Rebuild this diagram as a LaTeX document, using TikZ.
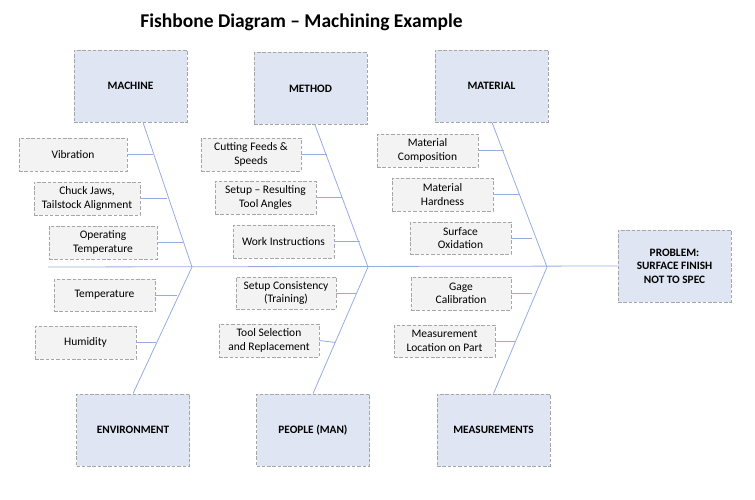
\documentclass[tikz,border=0pt]{standalone}
\usepackage{fontspec}
\setmainfont{Carlito}
\definecolor{headfill}{RGB}{223,229,242}
\definecolor{causefill}{RGB}{243,243,243}
\definecolor{boxline}{RGB}{166,166,166}
\definecolor{boneline}{RGB}{150,172,222}
\begin{document}
\begin{tikzpicture}[x=1pt,y=-1pt,
  headbox/.style={draw=boxline, fill=headfill, line width=0.8pt, dash pattern=on 3.5pt off 1.8pt, minimum width=113pt, minimum height=72pt, align=center, font=\fontsize{11.3}{13.5}\selectfont\bfseries, inner sep=2pt},
  causebox/.style={draw=boxline, fill=causefill, line width=0.8pt, dash pattern=on 3.5pt off 1.8pt, minimum width=101pt, minimum height=33pt, align=center, font=\fontsize{11.5}{13.5}\selectfont, inner sep=2pt},
  bone/.style={draw=boneline, line width=0.8pt}
]
\useasboundingbox (0,0) rectangle (755,500);
\node[font=\fontsize{19.5}{23}\selectfont\bfseries] (title) at (301.5,22) {Fishbone Diagram -- Machining Example};

% heads
\node[headbox] (machine) at (130.5,86) {MACHINE};
\node[headbox] (method) at (310.5,88.5) {METHOD};
\node[headbox] (material) at (491.5,86) {MATERIAL};
\node[headbox] (env) at (133,430) {ENVIRONMENT};
\node[headbox] (people) at (313,430) {PEOPLE (MAN)};
\node[headbox] (meas) at (493.5,430) {MEASUREMENTS};
\node[headbox] (problem) at (674.5,266) {PROBLEM:\\SURFACE FINISH\\NOT TO SPEC};

% spine
\coordinate (tail) at (48,267);
\coordinate (j1) at (192,267);
\coordinate (j2) at (368,267);
\coordinate (j3) at (547,267);
\draw[bone] (tail) -- (problem.west);

% bones
\draw[bone] ([xshift=12.5pt]machine.south) -- (j1);
\draw[bone] ([xshift=4.5pt]method.south) -- (j2);
\draw[bone] ([xshift=0.5pt]material.south) -- (j3);
\draw[bone] (env.north) -- (j1);
\draw[bone] (people.north) -- (j2);
\draw[bone] (meas.north) -- (j3);

% causes
\node[causebox, minimum width=108pt] (vib) at (73,154.5) {Vibration};
\node[causebox, minimum width=106pt] (chuck) at (87,198.5) {Chuck Jaws,\\Tailstock Alignment};
\node[causebox, minimum width=108pt] (optemp) at (103,242.5) {Operating\\Temperature};
\node[causebox, minimum width=100pt] (cut) at (251,154.5) {Cutting Feeds \&\\Speeds};
\node[causebox] (setup) at (265.5,197.5) {Setup -- Resulting\\Tool Angles};
\node[causebox] (work) at (283.5,241.5) {Work Instructions};
\node[causebox] (comp) at (427.5,150.5) {Material\\Composition};
\node[causebox] (hard) at (442.5,194.5) {Material\\Hardness};
\node[causebox, minimum height=32pt] (oxid) at (460.5,238) {Surface\\Oxidation};
\node[causebox, minimum height=32pt] (temp) at (104.5,295) {Temperature};
\node[causebox] (hum) at (85.5,342.5) {Humidity};
\node[causebox, minimum width=100pt, minimum height=32pt] (cons) at (286,293) {Setup Consistency\\(Training)};
\node[causebox, minimum width=100pt] (toolsel) at (269,340.5) {Tool Selection\\and Replacement};
\node[causebox, minimum width=100pt] (gage) at (461,293.5) {Gage\\Calibration};
\node[causebox, minimum height=32pt] (mloc) at (444.5,341) {Measurement\\Location on Part};

% cause connectors
\draw[bone] (vib.east) -- ++(26,0);
\draw[bone] (chuck.east) -- ++(27,0);
\draw[bone] (optemp.east) -- ++(26,0);
\draw[bone] (cut.east) -- ++(26,0);
\draw[bone] (setup.east) -- ++(26,0);
\draw[bone] (work.east) -- ++(26,0);
\draw[bone] (comp.east) -- ++(26,0);
\draw[bone] (hard.east) -- ++(26,0);
\draw[bone] (oxid.east) -- ++(21,0);
\draw[bone] (temp.east) -- ++(22,0);
\draw[bone] (hum.east) -- ++(20,0);
\draw[bone] (cons.east) -- ++(20,0);
\draw[bone] (toolsel.east) -- ++(16,2);
\draw[bone] (gage.east) -- ++(21,0);
\draw[bone] (mloc.east) -- ++(21,0);
\end{tikzpicture}
\end{document}
